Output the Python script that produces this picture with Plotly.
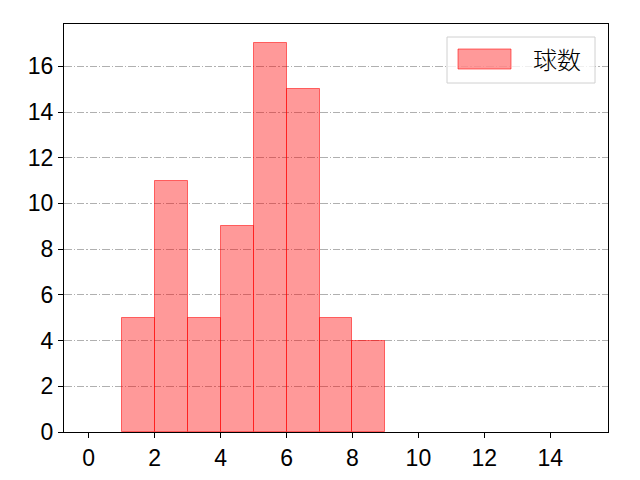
import plotly.graph_objects as go

# histogram bins (left edges) and counts
bin_left = [1, 2, 3, 4, 5, 6, 7, 8]
counts = [5, 11, 5, 9, 17, 15, 5, 4]
bin_width = 1
legend_label = "球数"

x_ticks = [0, 2, 4, 6, 8, 10, 12, 14]
y_ticks = [0, 2, 4, 6, 8, 10, 12, 14, 16]

FONT = "Noto Sans CJK JP, DejaVu Sans, sans-serif"
TICK_FONT = "Liberation Sans, Arial, sans-serif"
FILL = "rgba(255,0,0,0.4)"
EDGE = "rgba(255,0,0,0.55)"

# page has an 8px body margin, so shift the plot box back by that much
L, T, W, H = 56, 16, 544, 408

fig = go.Figure()
fig.add_trace(go.Bar(
    x=[b + bin_width / 2 for b in bin_left],
    y=counts,
    width=bin_width,
    marker=dict(color=FILL, line=dict(color=EDGE, width=1)),
    showlegend=False,
))

axis_common = dict(
    showline=True, linecolor="black", linewidth=1, mirror=True,
    ticks="outside", ticklen=5, tickcolor="black",
    tickfont=dict(size=23, color="black", family=TICK_FONT),
    zeroline=False,
)
fig.update_xaxes(range=[-0.75, 15.75], tickvals=x_ticks, showgrid=False, **axis_common)
fig.update_yaxes(range=[0, 17.85], tickvals=y_ticks, showgrid=True,
                 gridcolor="#b0b0b0", gridwidth=1, griddash="7.5px,2px,1.3px,2px",
                 **axis_common)


def px(x):
    return (x - 64) / W


def py(y):
    return (432 - y) / H


# matplotlib-style legend box, drawn by hand (coords in reference pixels)
fig.add_shape(type="rect", xref="paper", yref="paper",
              x0=px(447), x1=px(595), y0=py(83), y1=py(37),
              line=dict(color="#d0d0d0", width=1), fillcolor="rgba(255,255,255,0.8)",
              layer="above")
fig.add_shape(type="rect", xref="paper", yref="paper",
              x0=px(458), x1=px(511), y0=py(69), y1=py(49),
              line=dict(color=EDGE, width=1), fillcolor=FILL, layer="above")
fig.add_annotation(xref="paper", yref="paper", x=px(531), y=py(58),
                   text=legend_label, showarrow=False, xanchor="left", yanchor="middle",
                   font=dict(size=24, color="black", family=FONT, weight=300))

fig.update_layout(
    width=640, height=480,
    margin=dict(l=L, r=640 - L - W, t=T, b=480 - T - H),
    plot_bgcolor="white", paper_bgcolor="white",
    bargap=0,
    font=dict(family=FONT),
)

fig.write_html("out.html")
